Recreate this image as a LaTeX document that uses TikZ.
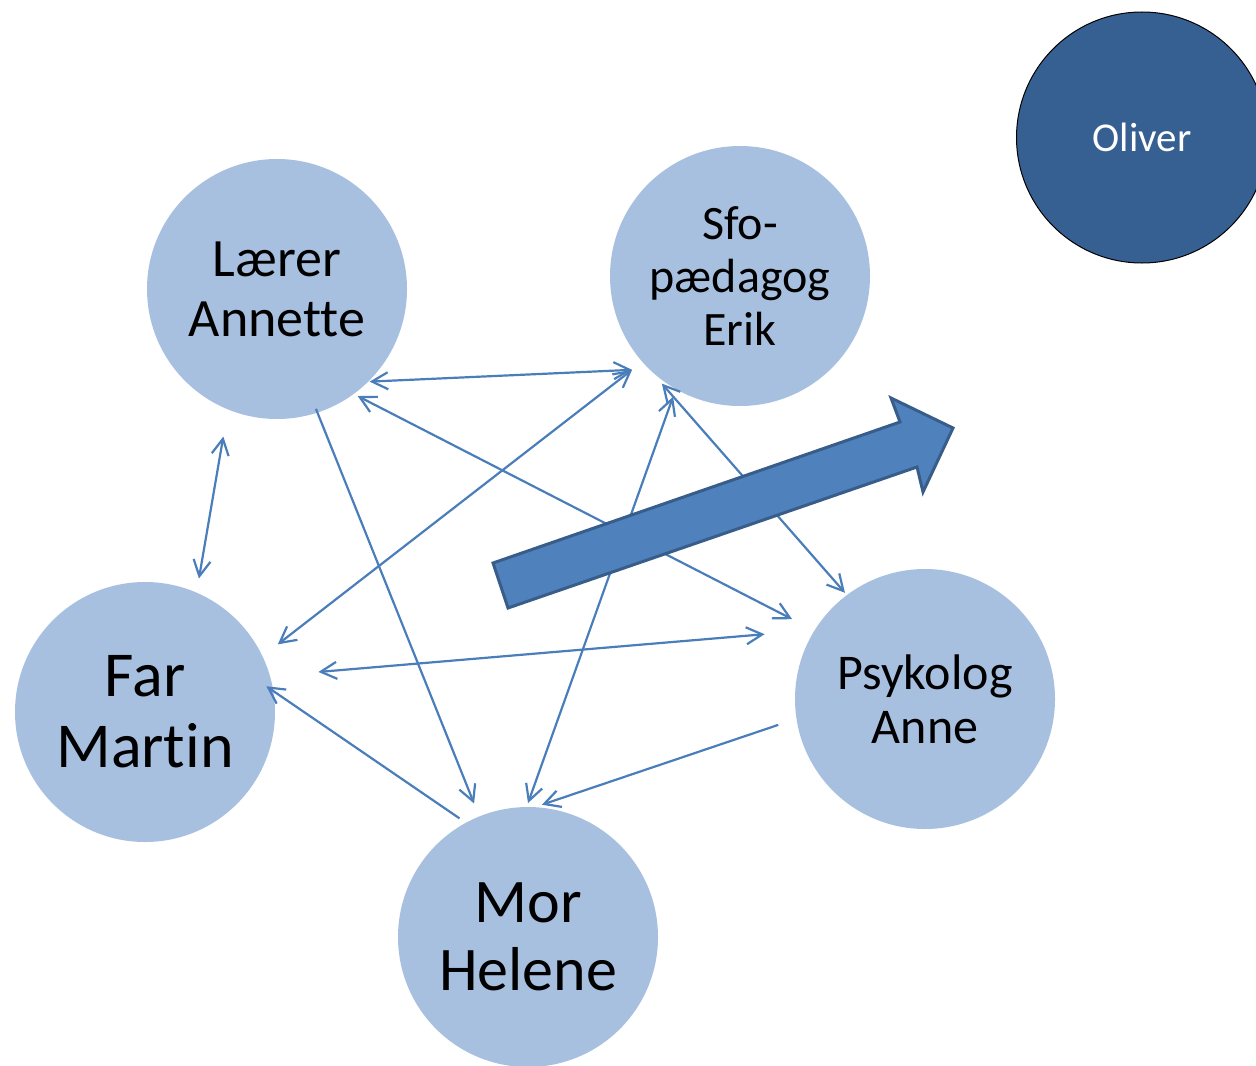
\documentclass[tikz,border=0pt]{standalone}
\usepackage{fontspec}
\setmainfont{Carlito}[RawFeature={-liga;-clig;-calt;-dlig}]
\usepackage{tikz}
\usetikzlibrary{calc}
\usetikzlibrary{arrows.meta}
\usetikzlibrary{positioning}
\definecolor{circlefill}{RGB}{168,192,224}
\definecolor{linkblue}{RGB}{74,126,187}
\definecolor{bigfill}{RGB}{79,129,189}
\definecolor{bigline}{RGB}{56,93,138}
\definecolor{oliverfill}{RGB}{55,96,146}
\tikzset{
    person/.style={circle,fill=circlefill,minimum size=130pt,inner sep=0pt,align=center,text=black},
    link/.style={draw=linkblue,line width=1.1pt},
    >={Straight Barb[length=8pt,width=8.5pt]}
}

\begin{document}
\begin{tikzpicture}[x=0.5pt,y=0.5pt]
        \useasboundingbox (0,0) rectangle (1256,-1065);
        % personer
        \node[person,font=\fontsize{27pt}{30pt}\selectfont] (ann)  at (277,-289) {Lærer\\Annette};
        \node[person,font=\fontsize{24pt}{26.5pt}\selectfont] (erik) at (740,-276) {Sfo-\\pædagog\\Erik};
        \node[person,font=\fontsize{32pt}{35.5pt}\selectfont] (far)  at (145,-712) {Far\\Martin};
        \node[person,font=\fontsize{31pt}{34pt}\selectfont] (mor)  at (528,-937) {Mor\\Helene};
        \node[person,font=\fontsize{25pt}{27pt}\selectfont] (psy)  at (925,-699) {Psykolog\\Anne};
        \node[circle,fill=oliverfill,draw=black,line width=0.5pt,minimum size=125.5pt,inner sep=0pt,
              text=white,font=\fontsize{20.5pt}{24pt}\selectfont] (oliver) at (1142,-137.5) {Oliver};
        % forbindelser
        \draw[link,<->] ($(ann)+(-45:131)$)  -- ($(erik)+(221:143)$);
        \draw[link,<->] ($(ann)+(250:157)$)  -- ($(far)+(68:144)$);
        \draw[link,->]  ($(ann)+(288:126)$)  -- ($(mor)+(112:144)$);
        \draw[link,<->] ($(ann)+(307:134)$)  -- ($(psy)+(149:155)$);
        \draw[link,<->] ($(far)+(27:149)$)   -- ($(erik)+(221:143)$);
        \draw[link,<->] ($(far)+(13:178)$)   -- ($(psy)+(158:173)$);
        \draw[link,->]  ($(mor)+(120:137)$)  -- ($(far)+(12:124)$);
        \draw[link,<->] ($(mor)+(90:134)$)   -- ($(erik)+(241:138)$);
        \draw[link,<->] ($(erik)+(234:133)$) -- ($(psy)+(127:133)$);
        \draw[link,->]  ($(psy)+(190:149)$)  -- ($(mor)+(84:133)$);
        % stor pil
        \draw[fill=bigfill,draw=bigline,line width=1.5pt,line join=miter]
            (493,-563) -- (900,-422) -- (891,-398) -- (953,-428) -- (923,-492) -- (917,-467) -- (508,-608) -- cycle;
\end{tikzpicture}
\end{document}
